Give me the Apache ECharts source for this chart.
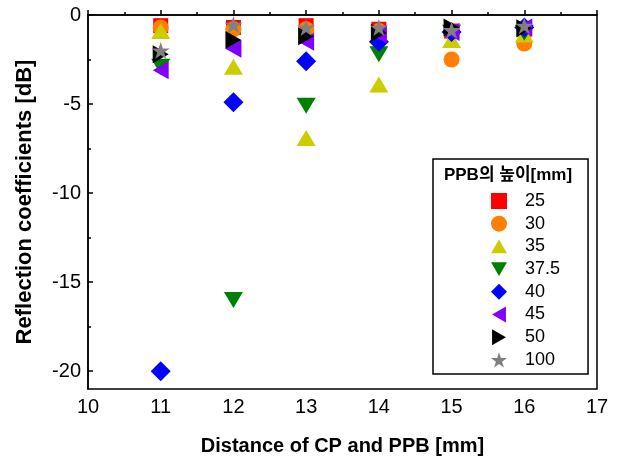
<!DOCTYPE html>
<html>
<head>
<meta charset="utf-8">
<script src="https://cdn.jsdelivr.net/npm/echarts@6/dist/echarts.min.js"></script>
<style>html,body{margin:0;padding:0;background:#fff}#c{width:618px;height:463px}</style>
</head>
<body>
<div id="c"></div>
<script>
const distances = [11, 12, 13, 14, 15, 16];
const heightNames = ['25', '30', '35', '37.5', '40', '45', '50', '100'];
const s25   = [-0.6, -0.7, -0.6, -0.8, -0.9, -0.8];
const s30   = [-0.7, -0.8, -0.8, -0.9, -2.5, -1.6];
const s35   = [-0.9, -2.9, -6.9, -3.9, -1.4, -1.1];
const s37_5 = [-2.9, -16.0, -5.1, -2.2, -1.0, -1.0];
const s40   = [-20.0, -4.9, -2.6, -1.5, -0.95, -0.7];
const s45   = [-3.1, -1.9, -1.5, -1.1, -0.95, -0.7];
const s50   = [-2.2, -1.4, -1.2, -1.0, -0.7, -0.75];
const s100  = [-2.0, -0.55, -0.7, -0.7, -0.85, -0.6];
const yMajorTicks = [0, -5, -10, -15, -20];
const yMinorTicks = [-2.5, -7.5, -12.5, -17.5];

const allValues = [s25, s30, s35, s37_5, s40, s45, s50, s100];
const colors = ['#ff0000', '#ff8000', '#cccc00', '#008000', '#0000ff', '#8000ff', '#000000', '#808080'];
const STAR = 'path://M50,0 L61.2,34.5 L97.6,34.5 L68.2,55.9 L79.4,90.5 L50,69.1 L20.6,90.5 L31.8,55.9 L2.4,34.5 L38.8,34.5 Z';
const TRI_UP = 'path://M50,0 L100,87 L0,87 Z';
const TRI_DOWN = 'path://M0,0 L100,0 L50,87 Z';
const TRI_LEFT = 'path://M0,50 L87,0 L87,100 Z';
const TRI_RIGHT = 'path://M0,0 L87,50 L0,100 Z';
const symbols = ['rect', 'circle', TRI_UP, TRI_DOWN, 'diamond', TRI_LEFT, TRI_RIGHT, STAR];
const sizes = [[15,15], 16, [19,16], [19,16], [20,20], [16,18], [16,18], [18,17]];

const FONT = '"Liberation Sans", Arial, "Noto Sans CJK KR", sans-serif';

const series = heightNames.map((n, i) => ({
  name: n,
  type: 'scatter',
  symbol: symbols[i],
  symbolSize: sizes[i],
  itemStyle: { color: colors[i], opacity: 1 },
  emphasis: { disabled: true },
  data: distances.map((d, j) => [d, allValues[i][j]]),
  z: 2 + i
}));

const chart = echarts.init(document.getElementById('c'), null, { renderer: 'canvas' });
chart.setOption({
  animation: false,
  backgroundColor: '#fff',
  grid: { left: 88, right: 21, top: 15, bottom: 74, show: true, borderColor: '#000', borderWidth: 1.5, backgroundColor: 'transparent' },
  title: {
    text: 'PPB의 높이[mm]',
    left: 508, top: 167, textAlign: 'center', padding: 0,
    textStyle: { fontFamily: FONT, fontWeight: 'bold', fontSize: 17, color: '#000' }
  },
  legend: {
    orient: 'vertical',
    left: 433, top: 159,
    padding: [33, 28, 5, 58],
    itemWidth: 16, itemHeight: 16, itemGap: 4.7,
    borderColor: '#000', borderWidth: 1.5,
    textStyle: { fontFamily: FONT, fontSize: 18, color: '#000', padding: [0, 0, 0, 13] },
    data: heightNames
  },
  xAxis: {
    type: 'value', min: 10, max: 17, interval: 1,
    name: 'Distance of CP and PPB [mm]', nameLocation: 'middle', nameGap: 47,
    nameTextStyle: { fontFamily: FONT, fontWeight: 'bold', fontSize: 20, color: '#000' },
    axisLine: { lineStyle: { color: '#000', width: 1.5 } },
    axisTick: { inside: true, length: 5, lineStyle: { color: '#000', width: 1.5 } },
    minorTick: { show: true, splitNumber: 2, length: 3, lineStyle: { color: '#000', width: 1.5 } },
    axisLabel: { fontFamily: FONT, fontSize: 20, color: '#000', margin: 8 },
    splitLine: { show: false }
  },
  yAxis: [{
    type: 'value', min: -21, max: 0,
    name: 'Reflection coefficients [dB]', nameLocation: 'middle', nameGap: 52,
    nameTextStyle: { fontFamily: FONT, fontWeight: 'bold', fontSize: 22, color: '#000' },
    axisLine: { lineStyle: { color: '#000', width: 1.5 } },
    axisTick: { inside: true, length: 5, customValues: yMajorTicks, lineStyle: { color: '#000', width: 1.5 } },
    axisLabel: { fontFamily: FONT, fontSize: 20, color: '#000', margin: 7, customValues: yMajorTicks },
    splitLine: { show: false }
  }, {
    type: 'value', min: -21, max: 0, position: 'left',
    axisLine: { show: false },
    axisTick: { inside: true, length: 3, customValues: yMinorTicks, lineStyle: { color: '#000', width: 1.5 } },
    axisLabel: { show: false },
    splitLine: { show: false }
  }],
  series: series
});
</script>
</body>
</html>
